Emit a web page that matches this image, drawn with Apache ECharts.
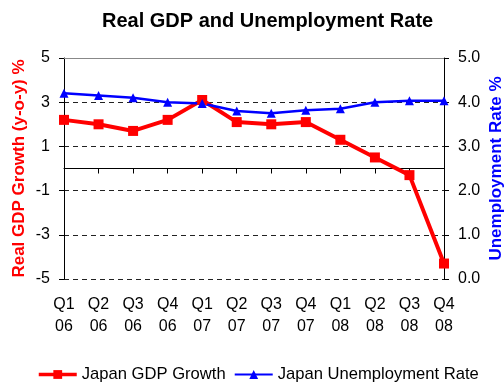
<!DOCTYPE html>
<html>
<head>
<meta charset="utf-8">
<script src="https://cdn.jsdelivr.net/npm/echarts@6/dist/echarts.min.js"></script>
<style>
  html, body { margin: 0; padding: 0; background: #fff; }
  #chart { width: 504px; height: 382px; }
</style>
</head>
<body>
<div id="chart"></div>
<script>
// Quarterly labels (quarter / two-digit year)
const quarters = ['Q1\n06', 'Q2\n06', 'Q3\n06', 'Q4\n06',
                  'Q1\n07', 'Q2\n07', 'Q3\n07', 'Q4\n07',
                  'Q1\n08', 'Q2\n08', 'Q3\n08', 'Q4\n08'];

// Real GDP growth, year on year, %
const gdpGrowth = [2.2, 2.0, 1.7, 2.2, 3.1, 2.1, 2.0, 2.1, 1.3, 0.5, -0.3, -4.3];

// Unemployment rate, %
const unemploymentRate = [4.2, 4.15, 4.1, 4.0, 3.97, 3.8, 3.75, 3.82, 3.85, 4.0, 4.03, 4.03];

const FONT = '"Liberation Sans", Arial, sans-serif';

const chart = echarts.init(document.getElementById('chart'), null, { renderer: 'canvas' });

chart.setOption({
  animation: false,
  backgroundColor: '#fff',
  title: {
    text: 'Real GDP and Unemployment Rate',
    left: 97,
    top: 6,
    textStyle: { fontFamily: FONT, fontSize: 20, fontWeight: 'bold', color: '#000' }
  },
  legend: {
    left: 32,
    top: 361,
    itemWidth: 38,
    itemHeight: 11,
    itemGap: 8,
    textStyle: { fontFamily: FONT, fontSize: 16.6, color: '#000' },
    data: [
      { name: 'Japan GDP Growth', lineStyle: { width: 3.5 } },
      { name: 'Japan Unemployment Rate', lineStyle: { width: 2.2 } }
    ]
  },
  grid: { left: 64, right: 60, top: 58, bottom: 103, containLabel: false, outerBoundsMode: 'none' },
  xAxis: [
    {
      // category labels below the plot
      type: 'category',
      data: quarters,
      boundaryGap: false,
      position: 'bottom',
      axisLine: { show: false, onZero: false },
      axisTick: { show: false },
      axisLabel: { margin: 15, fontFamily: FONT, fontSize: 16, lineHeight: 22, color: '#000' },
      splitLine: { show: false }
    },
    {
      // zero line with tick marks
      type: 'category',
      data: quarters,
      boundaryGap: false,
      position: 'bottom',
      axisLine: { show: true, onZero: true, onZeroAxisIndex: 0, lineStyle: { color: '#000', width: 1 } },
      axisTick: { show: true, length: 5, lineStyle: { color: '#000' } },
      axisLabel: { show: false },
      splitLine: { show: false }
    },
    {
      // top frame
      type: 'category',
      data: quarters,
      boundaryGap: false,
      position: 'top',
      axisLine: { show: true, onZero: false, lineStyle: { color: '#888', width: 1 } },
      axisTick: { show: false },
      axisLabel: { show: false },
      splitLine: { show: false }
    }
  ],
  yAxis: [
    {
      type: 'value',
      min: -5,
      max: 5,
      interval: 2,
      position: 'left',
      name: 'Real GDP Growth (y-o-y) %',
      nameLocation: 'middle',
      nameRotate: 90,
      nameGap: 36,
      nameMoveOverlap: false,
      nameTextStyle: { fontFamily: FONT, fontSize: 17, fontWeight: 'bold', color: '#ff0000' },
      axisLine: { show: true, onZero: false, lineStyle: { color: '#000', width: 1 } },
      axisTick: { show: true, length: 5, lineStyle: { color: '#000' } },
      axisLabel: { margin: 14, fontFamily: FONT, fontSize: 16, color: '#000' },
      splitLine: { show: true, lineStyle: { color: '#222', width: 1, type: [5, 4] } }
    },
    {
      type: 'value',
      min: 0,
      max: 5,
      interval: 1,
      position: 'right',
      name: 'Unemployment Rate %',
      nameLocation: 'middle',
      nameRotate: 90,
      nameGap: 44,
      nameMoveOverlap: false,
      nameTextStyle: { fontFamily: FONT, fontSize: 17, fontWeight: 'bold', color: '#0000ff' },
      axisLine: { show: true, onZero: false, lineStyle: { color: '#000', width: 1 } },
      axisTick: { show: true, length: 5, lineStyle: { color: '#000' } },
      axisLabel: {
        margin: 14, fontFamily: FONT, fontSize: 16, color: '#000',
        formatter: v => v.toFixed(1)
      },
      splitLine: { show: false }
    }
  ],
  series: [
    {
      name: 'Japan GDP Growth',
      type: 'line',
      xAxisIndex: 0,
      yAxisIndex: 0,
      data: gdpGrowth,
      color: '#ff0000',
      lineStyle: { color: '#ff0000', width: 4 },
      itemStyle: { color: '#ff0000' },
      symbol: 'rect',
      symbolSize: 10,
      showAllSymbol: true
    },
    {
      name: 'Japan Unemployment Rate',
      type: 'line',
      xAxisIndex: 0,
      yAxisIndex: 1,
      data: unemploymentRate,
      color: '#0000ff',
      lineStyle: { color: '#0000ff', width: 2.5 },
      itemStyle: { color: '#0000ff' },
      symbol: 'triangle',
      symbolSize: 9,
      showAllSymbol: true
    }
  ]
});
</script>
</body>
</html>
